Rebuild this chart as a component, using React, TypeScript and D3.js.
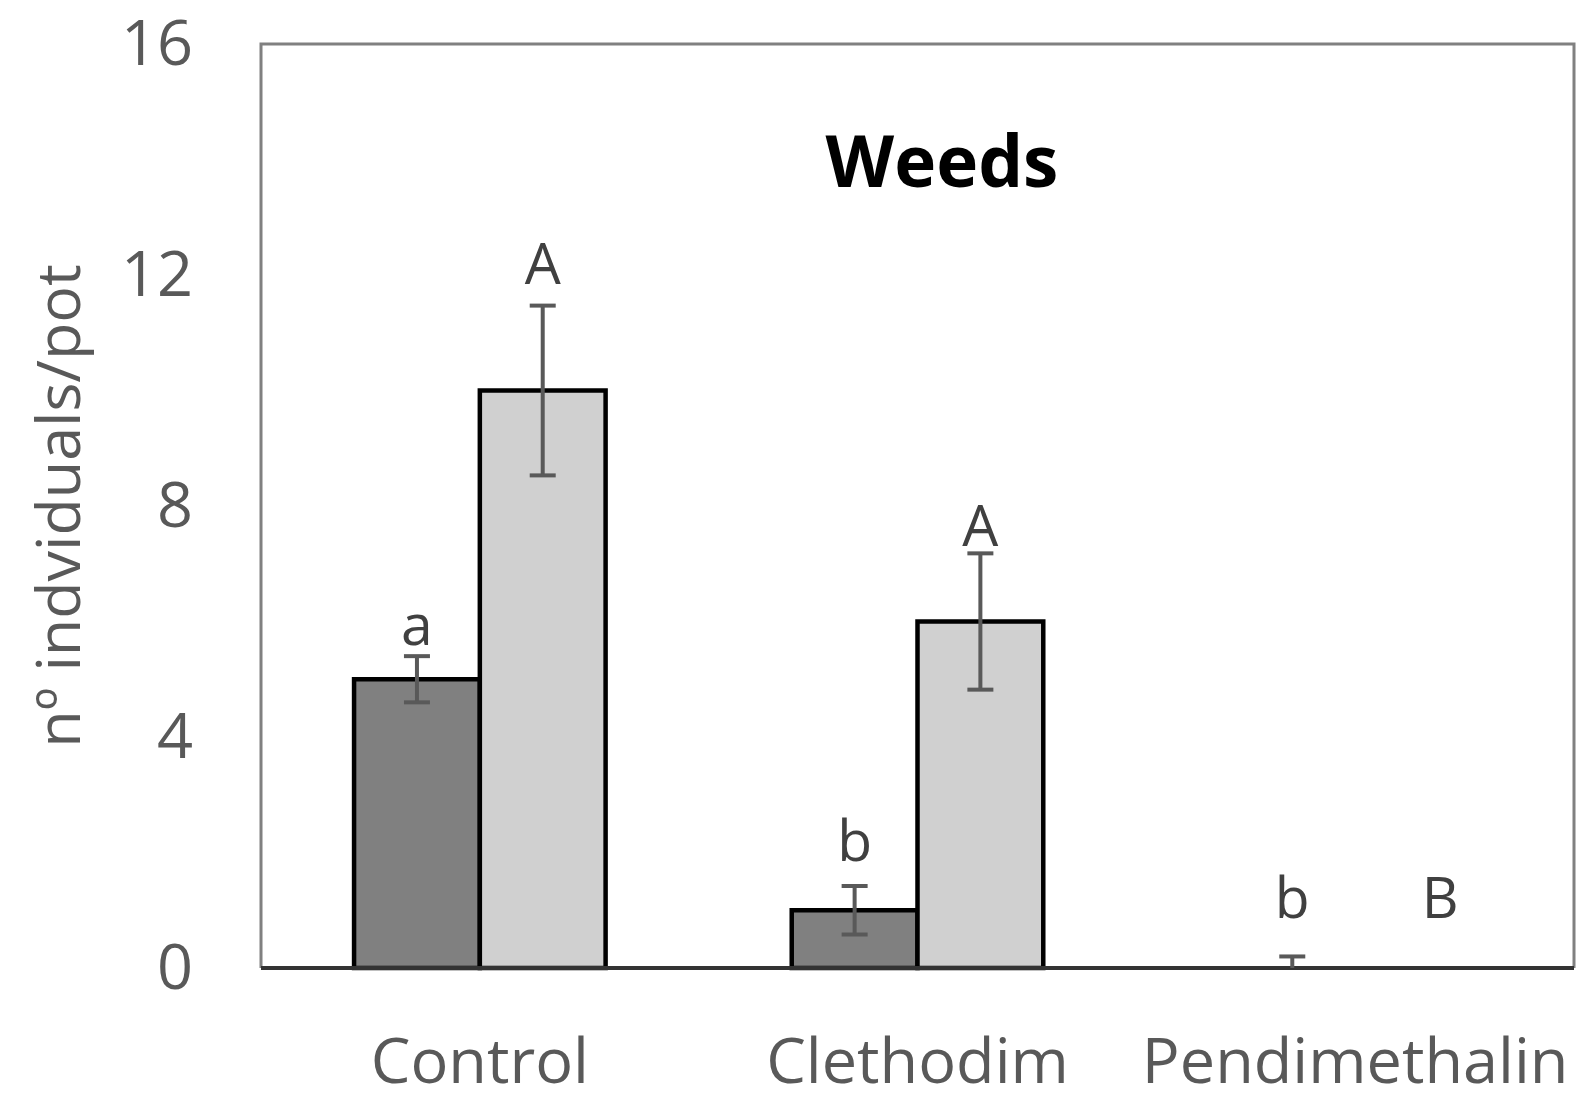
//@ts-nocheck
import React, { useRef, useEffect } from 'react'
import * as d3 from 'd3'

const treatments = ['Control', 'Clethodim', 'Pendimethalin']
const seriesKeys = ['dark', 'light']
const darkValues = [5.0, 1.0, 0]
const darkErrors = [0.4, 0.42, 0.2]
const lightValues = [10.0, 6.0, 0]
const lightErrors = [1.47, 1.18, 0]
const darkLetters = ['a', 'b', 'b']
const lightLetters = ['A', 'A', 'B']
// where each letter sits, in axis units
const darkLetterAt = [5.6, 1.85, 0.87]
const lightLetterAt = [11.85, 7.3, 0.87]
const yTicks = [0, 4, 8, 12, 16]

const W = 1590
const H = 1106
const FONT = "'Open Sans', 'Noto Sans', sans-serif"

const App = () => {
  const node = useRef(null)

  useEffect(() => {
    document.body.style.margin = '0'
    const svg = d3.select(node.current)
    svg.selectAll('*').remove()

    const margin = { top: 44, right: 16, bottom: 138, left: 261 }

    const x = d3
      .scaleBand()
      .domain(treatments)
      .range([margin.left, W - margin.right])
      .paddingInner(0)
      .paddingOuter(0)

    const xSub = d3.scaleBand().domain(seriesKeys).range([0, x.bandwidth()]).paddingOuter(0.74).paddingInner(0)

    const y = d3
      .scaleLinear()
      .domain([0, 16])
      .range([H - margin.bottom, margin.top])

    const rows = treatments.flatMap((t, i) => [
      { t, key: 'dark', v: darkValues[i], e: darkErrors[i], letter: darkLetters[i], at: darkLetterAt[i], fill: '#808080' },
      { t, key: 'light', v: lightValues[i], e: lightErrors[i], letter: lightLetters[i], at: lightLetterAt[i], fill: '#d0d0d0' }
    ])

    // frame
    svg
      .append('path')
      .attr('d', `M${margin.left},${y(0)}V${y(16)}H${W - margin.right}V${y(0)}`)
      .attr('fill', 'none')
      .attr('stroke', '#808080')
      .attr('stroke-width', 3)

    svg
      .append('g')
      .selectAll('rect')
      .data(rows.filter((d) => d.v > 0))
      .join('rect')
      .attr('x', (d) => x(d.t) + xSub(d.key))
      .attr('y', (d) => y(d.v))
      .attr('width', xSub.bandwidth())
      .attr('height', (d) => y(0) - y(d.v))
      .attr('fill', (d) => d.fill)
      .attr('stroke', '#000')
      .attr('stroke-width', 4.5)

    // baseline
    svg
      .append('line')
      .attr('x1', margin.left)
      .attr('x2', W - margin.right)
      .attr('y1', y(0))
      .attr('y2', y(0))
      .attr('stroke', '#333')
      .attr('stroke-width', 4)

    const errs = svg
      .append('g')
      .attr('stroke', '#595959')
      .attr('stroke-width', 4)
      .selectAll('g')
      .data(rows.filter((d) => d.e > 0))
      .join('g')
      .attr('transform', (d) => `translate(${x(d.t) + xSub(d.key) + xSub.bandwidth() / 2},0)`)
    errs
      .append('line')
      .attr('y1', (d) => y(d.v + d.e))
      .attr('y2', (d) => y(Math.max(0, d.v - d.e)))
    errs
      .append('line')
      .attr('x1', -13)
      .attr('x2', 13)
      .attr('y1', (d) => y(d.v + d.e))
      .attr('y2', (d) => y(d.v + d.e))
    errs
      .filter((d) => d.v - d.e > 0)
      .append('line')
      .attr('x1', -13)
      .attr('x2', 13)
      .attr('y1', (d) => y(d.v - d.e))
      .attr('y2', (d) => y(d.v - d.e))

    // letters; the one over an empty light bar sits a bit to the right
    svg
      .append('g')
      .selectAll('text')
      .data(rows)
      .join('text')
      .attr('x', (d) => x(d.t) + xSub(d.key) + xSub.bandwidth() / 2)
      .attr('dx', (d) => (d.key === 'light' && d.v === 0 ? 22 : 0))
      .attr('y', (d) => y(d.at))
      .attr('text-anchor', 'middle')
      .attr('font-family', FONT)
      .attr('font-size', 57)
      .attr('fill', '#404040')
      .text((d) => d.letter)

    // y axis labels
    const yAxis = svg
      .append('g')
      .attr('transform', `translate(${margin.left},0)`)
      .call(d3.axisLeft(y).tickValues(yTicks).tickSize(0).tickPadding(68))
    yAxis.select('.domain').remove()
    yAxis
      .selectAll('text')
      .attr('font-family', FONT)
      .attr('font-size', 63)
      .attr('fill', '#595959')
      .attr('dy', '0.33em')

    // x axis labels
    const xAxis = svg
      .append('g')
      .attr('transform', `translate(0,${y(0)})`)
      .call(d3.axisBottom(x).tickSize(0).tickPadding(70))
    xAxis.select('.domain').remove()
    xAxis
      .selectAll('text')
      .attr('font-family', FONT)
      .attr('font-size', 63)
      .attr('fill', '#595959')

    svg
      .append('text')
      .attr('transform', `translate(80,${(y(0) + y(16)) / 2}) rotate(-90)`)
      .attr('text-anchor', 'middle')
      .attr('font-family', FONT)
      .attr('font-size', 61)
      .attr('fill', '#595959')
      .text('nº indviduals/pot')

    svg
      .append('text')
      .attr('x', 942)
      .attr('y', 187)
      .attr('text-anchor', 'middle')
      .attr('font-family', FONT)
      .attr('font-size', 71)
      .attr('font-weight', 'bold')
      .attr('fill', '#000')
      .text('Weeds')
  }, [])

  return <svg ref={node} width={W} height={H} style={{ display: 'block', background: '#fff' }}></svg>
}

export default App
